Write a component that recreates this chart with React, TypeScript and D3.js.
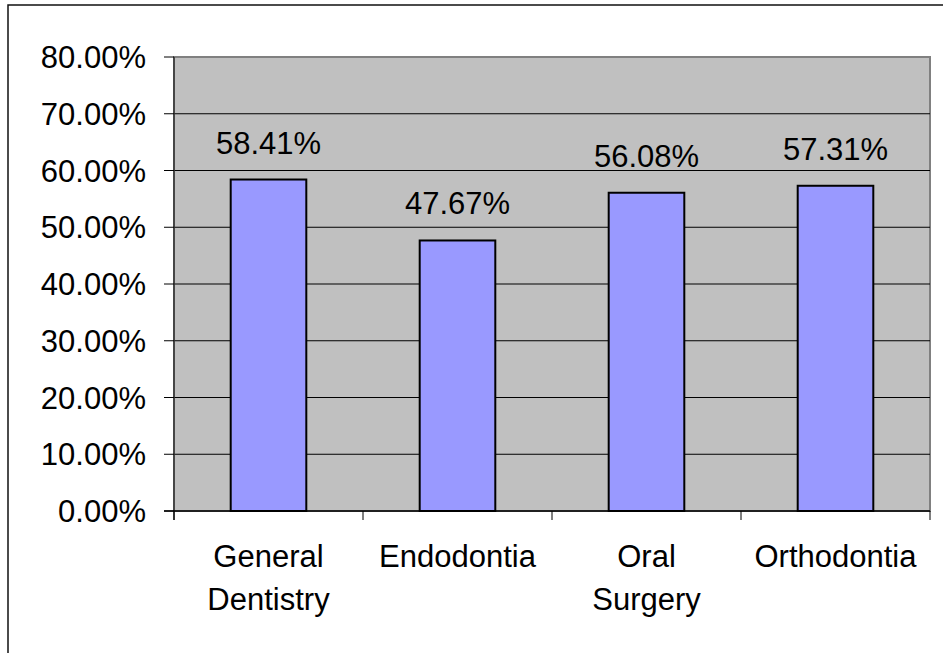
import React from 'react';
import * as d3 from 'd3';

const categories = ['General Dentistry', 'Endodontia', 'Oral Surgery', 'Orthodontia'];
const values = [58.41, 47.67, 56.08, 57.31];
const yTicks = [0, 10, 20, 30, 40, 50, 60, 70, 80];

const W = 943;
const H = 653;
const plot = { left: 174, top: 57, right: 930, bottom: 511 };
const font = '"Liberation Sans", Arial, sans-serif';
const fs = 31;

const App = () => {
  const x = d3.scaleBand<string>()
    .domain(categories)
    .range([plot.left, plot.right])
    .paddingInner(0.6)
    .paddingOuter(0.3); // about Excel's 150% gap width

  const band = d3.scaleBand<string>()
    .domain(categories)
    .range([plot.left, plot.right]);

  const y = d3.scaleLinear()
    .domain([0, 80])
    .range([plot.bottom, plot.top]);

  const boundaries = categories.map(c => band(c) as number).concat([plot.right]);

  return (
    <svg width={W} height={H} style={{ position: 'absolute', left: 0, top: 0 }} fontFamily={font}>
      <rect x={0} y={0} width={W} height={H} fill="#fff" />
      {/* chart area border */}
      <rect x={8} y={5} width={W + 10} height={H + 10} fill="none" stroke="#111" strokeWidth={1.5} />

      {/* plot area */}
      <rect x={plot.left} y={plot.top} width={plot.right - plot.left} height={plot.bottom - plot.top}
        fill="#C0C0C0" stroke="#808080" strokeWidth={2} />

      {/* gridlines */}
      {yTicks.filter(t => t > 0 && t < 80).map(t => (
        <line key={t} x1={plot.left} x2={plot.right} y1={y(t)} y2={y(t)} stroke="#000" strokeWidth={1} />
      ))}

      {/* bars */}
      {categories.map((c, i) => (
        <rect key={c} x={x(c)} y={y(values[i])} width={x.bandwidth()} height={y(0) - y(values[i])}
          fill="#9999FF" stroke="#000" strokeWidth={2} />
      ))}

      {/* value labels */}
      {categories.map((c, i) => (
        <text key={c} x={(x(c) as number) + x.bandwidth() / 2} y={y(values[i]) - 26}
          textAnchor="middle" fontSize={fs} fill="#000">
          {values[i].toFixed(2)}%
        </text>
      ))}

      {/* y axis */}
      <line x1={plot.left} x2={plot.left} y1={plot.top} y2={plot.bottom + 9} stroke="#333" strokeWidth={1.5} />
      {yTicks.map(t => (
        <g key={t}>
          <line x1={plot.left - 10} x2={plot.left} y1={y(t)} y2={y(t)} stroke="#000" strokeWidth={1} />
          <text x={146} y={y(t) + 11} textAnchor="end" fontSize={fs} fill="#000">
            {t.toFixed(2)}%
          </text>
        </g>
      ))}

      {/* x axis */}
      <line x1={plot.left - 10} x2={plot.right} y1={plot.bottom} y2={plot.bottom} stroke="#000" strokeWidth={1.5} />
      {boundaries.map((b, i) => (
        <line key={i} x1={b} x2={b} y1={plot.bottom} y2={plot.bottom + 9} stroke="#000" strokeWidth={1} />
      ))}
      {categories.map(c => {
        const cx = (band(c) as number) + band.bandwidth() / 2;
        const words = c.split(' ');
        return (
          <text key={c} x={cx} y={567} textAnchor="middle" fontSize={fs} fill="#000">
            {words.map((w, j) => (
              <tspan key={j} x={cx} dy={j === 0 ? 0 : 43}>{w}</tspan>
            ))}
          </text>
        );
      })}
    </svg>
  );
};

export default App;
